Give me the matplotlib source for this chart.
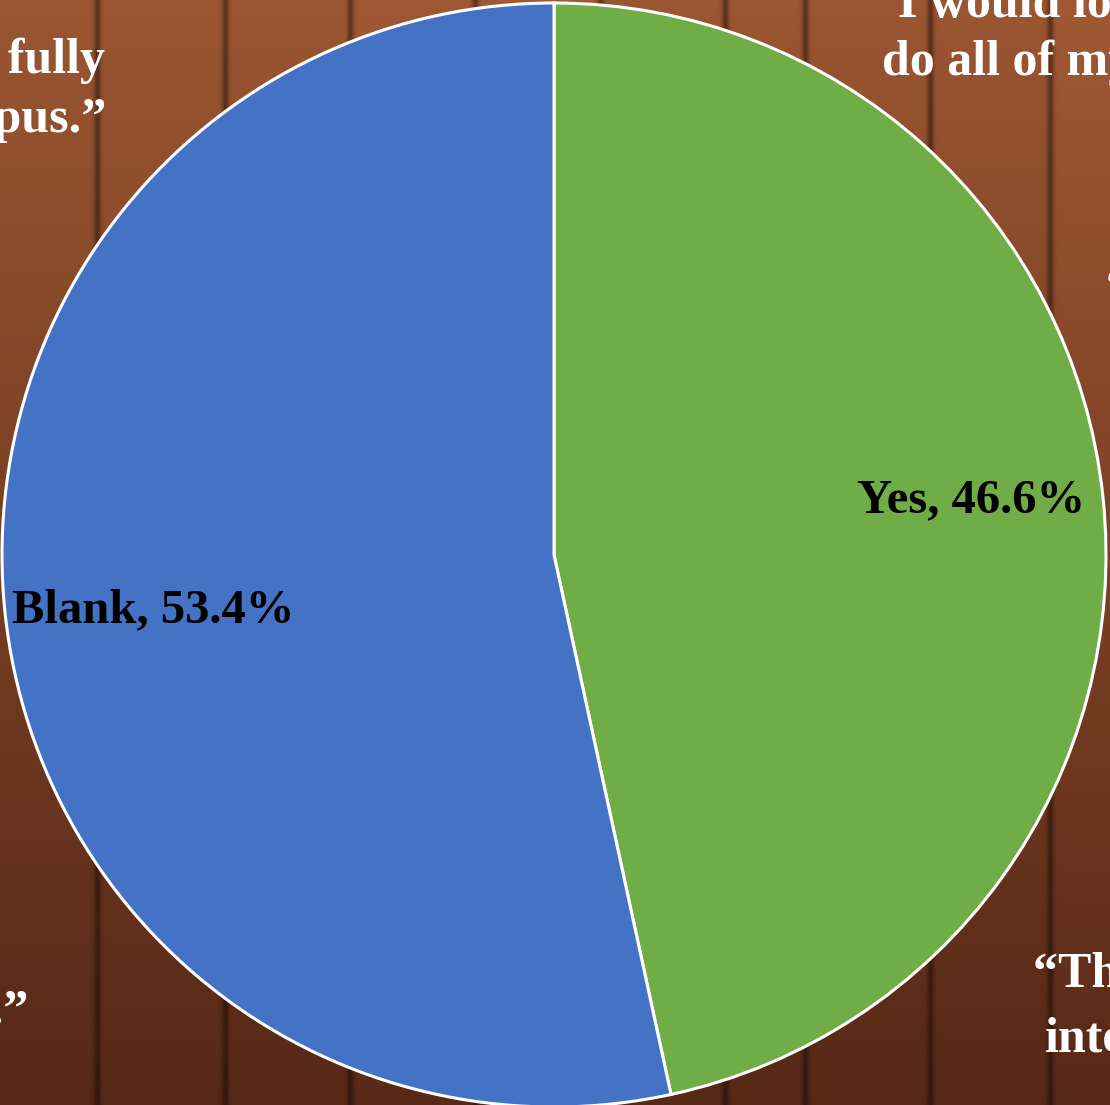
import matplotlib
matplotlib.use("Agg")
import matplotlib.pyplot as plt
import numpy as np

# pie data
labels = ["Yes", "Blank"]
shares = [46.6, 53.4]
colors = ["#70AD47", "#4472C4"]

# quote fragments around the chart (x, baseline y in pixels, alignment, text)
quotes = [
    (873, 17, "left", "\u201cI would love to"),
    (882, 75, "left", "do all of my classes online.\u201d"),
    (105, 73, "right", "\u201cI would like to be fully"),
    (106, 132, "right", "back on campus.\u201d"),
    (1106, 301, "left", "\u201cIt was"),
    (28, 1024, "right", "\u201cI prefer in-person learning.\u201d"),
    (1033, 987, "left", "\u201cThe classes were"),
    (1045, 1052, "left", "interesting.\u201d"),
]

W, H = 1110, 1105
seams = [-28, 97, 225, 350, 475, 600, 725, 805, 930, 1050]


def wood_background():
    yy, xx = np.mgrid[0:H, 0:W]
    t = (yy / H)[..., None]
    top = np.array([155, 86, 50]) / 255
    bottom = np.array([86, 40, 22]) / 255
    img = top * (1 - t) + bottom * t
    shade = np.ones((H, W))
    for i, s in enumerate(seams):
        shade -= 0.4 * np.exp(-((xx - s) / 3.5) ** 2)
        # slight tone change per plank
        if i % 2:
            shade[:, max(s, 0):] *= 1.0 - 0.03 * ((i % 3) - 1)
    return np.clip(img * shade[..., None], 0, 1)


fig = plt.figure(figsize=(W / 100, H / 100), dpi=100)

bg = fig.add_axes([0, 0, 1, 1])
bg.imshow(wood_background(), extent=(0, W, H, 0), aspect="auto")
bg.set_xlim(0, W)
bg.set_ylim(H, 0)
bg.axis("off")

for x, y, ha, txt in quotes:
    bg.text(x, y, txt, ha=ha, va="baseline", color="white",
            fontsize=36, fontweight="bold", family="Liberation Serif")

cx, cy, r = 554, 555, 552
ax = fig.add_axes([(cx - r) / W, (H - cy - r) / H, 2 * r / W, 2 * r / H])
wedges, texts = ax.pie(
    shares, colors=colors, startangle=90, counterclock=False,
    labels=[f"{l}, {v:.1f}%" for l, v in zip(labels, shares)],
    labeldistance=0.75,
    wedgeprops=dict(edgecolor="white", linewidth=2.2),
    textprops=dict(fontsize=35, fontweight="bold", family="Liberation Serif",
                   color="black"),
)
# nudge labels to where the original chart put them
texts[0].set_position((0.755, 0.10))
texts[1].set_position((-0.726, -0.10))
for t in texts:
    t.set_ha("center")
    t.set_va("center")
ax.set_xlim(-1, 1)
ax.set_ylim(-1, 1)
ax.axis("off")

fig.savefig("out.png", dpi=100)
